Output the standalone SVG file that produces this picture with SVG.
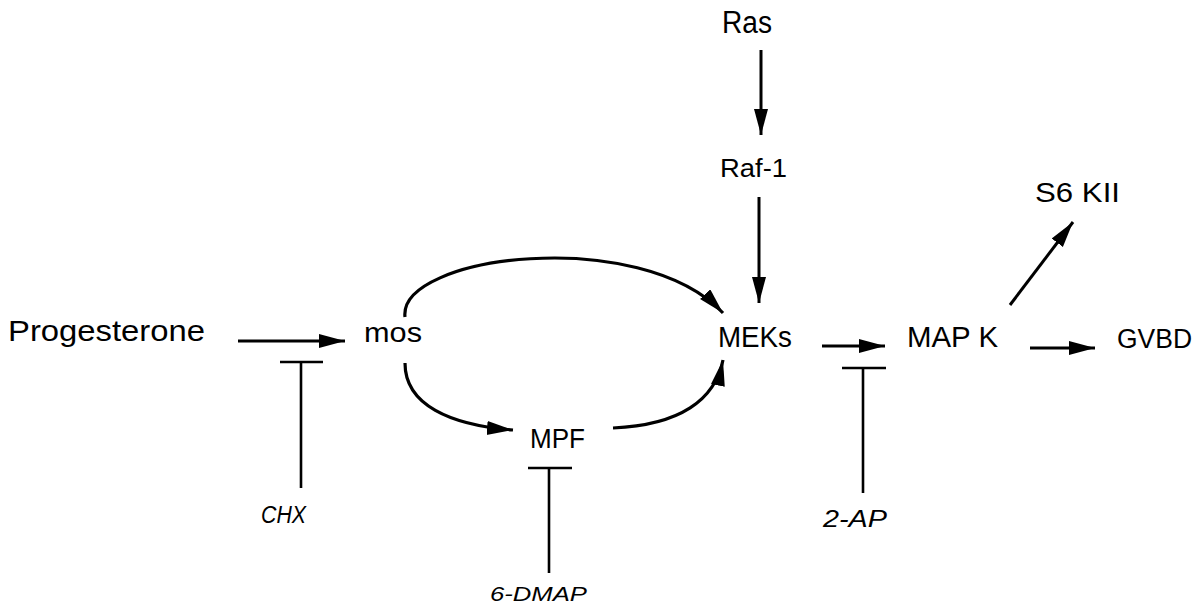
<svg xmlns="http://www.w3.org/2000/svg" width="1204" height="607" viewBox="0 0 1204 607">
<style>
.t{font-family:"Liberation Sans","DejaVu Sans",sans-serif;fill:#000;}
.i{font-family:"Liberation Sans","DejaVu Sans",sans-serif;font-style:italic;fill:#000;}
.a{fill:none;stroke:#000;stroke-width:3;marker-end:url(#ah);}
.c{fill:none;stroke:#000;stroke-width:3.2;marker-end:url(#ah);}
.b{fill:none;stroke:#000;stroke-width:2.6;}
</style>
<defs>
<marker id="ah" markerUnits="userSpaceOnUse" markerWidth="28" markerHeight="16" refX="26" refY="7" orient="auto">
<path d="M0,0 L26,7 L0,14 z" fill="#000"/>
</marker>
</defs>
<rect width="1204" height="607" fill="#fff"/>
<g id="connectors">
<line class="a" x1="238" y1="341" x2="345" y2="341"/>
<line class="a" x1="761" y1="50" x2="761" y2="135"/>
<line class="a" x1="759" y1="197" x2="759" y2="303"/>
<line class="a" x1="822" y1="346" x2="885" y2="346"/>
<line class="a" x1="1030" y1="348" x2="1095" y2="348"/>
<line class="a" x1="1010" y1="305" x2="1073" y2="222"/>
<path class="c" d="M405,317 C398,255 640,225 723,313"/>
<path class="c" d="M405,363 C405,405 450,425 513,430"/>
<path class="c" d="M613,428 C680,425 715,400 723,360"/>
<g id="inhibitors">
<line class="b" x1="280" y1="362" x2="323" y2="362"/>
<line class="b" x1="301" y1="362" x2="301" y2="488"/>
<line class="b" x1="528" y1="468" x2="572" y2="468"/>
<line class="b" x1="549" y1="468" x2="549" y2="573"/>
<line class="b" x1="842" y1="368" x2="886" y2="368"/>
<line class="b" x1="863" y1="368" x2="863" y2="493"/>
</g>
</g>
<g id="progesterone"><text class="t" x="8" y="341" font-size="30" textLength="197" lengthAdjust="spacingAndGlyphs">Progesterone</text></g>
<g id="mos"><text class="t" x="364" y="342" font-size="27" textLength="58" lengthAdjust="spacingAndGlyphs">mos</text></g>
<g id="mpf"><text class="t" x="530" y="448" font-size="28" textLength="55" lengthAdjust="spacingAndGlyphs">MPF</text></g>
<g id="meks"><text class="t" x="718" y="347" font-size="30" textLength="74" lengthAdjust="spacingAndGlyphs">MEKs</text></g>
<g id="mapk"><text class="t" x="907" y="347" font-size="30" textLength="91" lengthAdjust="spacingAndGlyphs">MAP K</text></g>
<g id="gvbd"><text class="t" x="1117" y="348" font-size="27" textLength="75" lengthAdjust="spacingAndGlyphs">GVBD</text></g>
<g id="s6kii"><text class="t" x="1035" y="202" font-size="27" textLength="85" lengthAdjust="spacingAndGlyphs">S6 KII</text></g>
<g id="ras"><text class="t" x="722" y="33" font-size="31" textLength="50" lengthAdjust="spacingAndGlyphs">Ras</text></g>
<g id="raf1"><text class="t" x="720" y="177" font-size="26" textLength="67" lengthAdjust="spacingAndGlyphs">Raf-1</text></g>
<g id="chx"><text class="i" x="261" y="523" font-size="23" textLength="45" lengthAdjust="spacingAndGlyphs">CHX</text></g>
<g id="dmap"><text class="i" x="490" y="601" font-size="21" textLength="97" lengthAdjust="spacingAndGlyphs">6-DMAP</text></g>
<g id="ap2"><text class="i" x="823" y="527" font-size="23" textLength="64" lengthAdjust="spacingAndGlyphs">2-AP</text></g>
</svg>
